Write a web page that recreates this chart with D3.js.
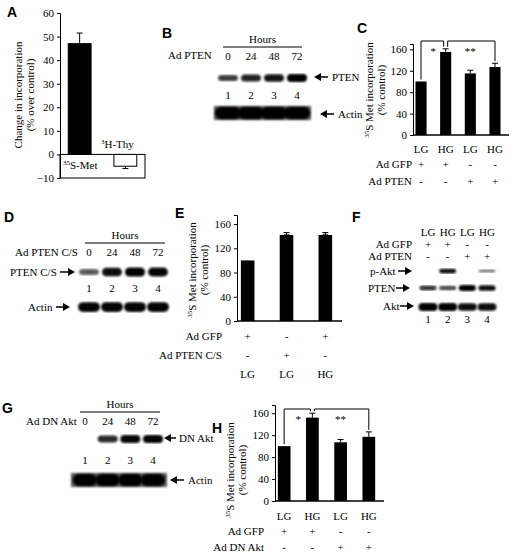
<!DOCTYPE html>
<html><head><meta charset="utf-8">
<script src="https://cdn.jsdelivr.net/npm/d3@7"></script>
<style>
body{margin:0;background:#fff}
text{font-family:"Liberation Serif",serif;font-size:11px;fill:#000}
.let{font-family:"Liberation Sans",Arial,sans-serif;font-weight:bold;font-size:14px}
.axis path,.axis line{stroke:#000;fill:none}
.axis text{font-family:"Liberation Serif",serif;font-size:11px}
</style></head><body>
<svg id="svg" width="520" height="554"></svg>
<script>
// panel A
var aCats = ["35S-Met", "3H-Thy"], aVals = [47, -5], aErr = [4.5, 1];
// panels C, E, H
var cVals = [100, 155, 115, 127], cErr = [0, 6, 6, 7];
var eVals = [100, 142, 142], eErr = [0, 4, 4];
var hVals = [100, 152, 107, 117], hErr = [0, 8, 5, 9];
var glucose4 = ["LG", "HG", "LG", "HG"], glucose3 = ["LG", "LG", "HG"];
var lanes = ["1", "2", "3", "4"], hours = ["0", "24", "48", "72"];
// blot band intensities (0-1)
var bPten = [0.55, 0.75, 0.85, 1], bActin = [1, 1, 1, 1];
var dPten = [0.35, 0.9, 1, 0.95], dActin = [0.95, 0.95, 0.95, 0.95];
var fPakt = [0, 0.9, 0, 0.15], fPten = [0.6, 0.45, 1, 0.9], fAkt = [1, 1, 0.9, 0.9];
var gDn = [0, 0.7, 0.95, 1], gActin = [1, 1, 1, 1];

var svg = d3.select("#svg");
var defs = svg.append("defs");
defs.append("filter").attr("id", "blur").append("feGaussianBlur").attr("stdDeviation", 1.3);

function letter(t, x, y) { svg.append("text").attr("class", "let").attr("x", x).attr("y", y).text(t); }
function txt(t, x, y, anchor, size) {
  return svg.append("text").attr("x", x).attr("y", y).attr("text-anchor", anchor || "start")
    .style("font-size", (size || 11) + "px").text(t);
}
function arrowR(x1, x2, y) {
  svg.append("line").attr("x1", x1).attr("x2", x2 - 5).attr("y1", y).attr("y2", y).attr("stroke", "#000").attr("stroke-width", 1.5);
  svg.append("path").attr("d", "M" + x2 + "," + y + "l-7,-4v8z");
}
function arrowL(x1, x2, y) {
  svg.append("line").attr("x1", x1 + 5).attr("x2", x2).attr("y1", y).attr("y2", y).attr("stroke", "#000").attr("stroke-width", 1.5);
  svg.append("path").attr("d", "M" + x1 + "," + y + "l7,-4v8z");
}
function ylabel(x, y, lines) {
  var t = svg.append("text").attr("transform", "translate(" + x + "," + y + ") rotate(-90)").attr("text-anchor", "middle");
  lines.forEach(function (l, i) {
    var ts = t.append("tspan").attr("x", 0).attr("dy", i ? 12 : 0);
    if (l.sup) { ts.append("tspan").attr("baseline-shift", "super").style("font-size", "7px").text(l.sup); ts.append("tspan").text(l.t); }
    else ts.text(l.t);
  });
}
function supText(sup, t, x, y) {
  var s = svg.append("text").attr("x", x).attr("y", y);
  s.append("tspan").attr("baseline-shift", "super").style("font-size", "7px").text(sup);
  s.append("tspan").text(t);
}
function band(x, y, w, h, v) {
  if (v <= 0) return;
  svg.append("rect").attr("x", x - w / 2).attr("y", y - h / 2 * (0.5 + v / 2)).attr("width", w)
    .attr("height", h * (0.5 + v / 2)).attr("rx", h / 2).attr("fill", "#000")
    .attr("opacity", 0.45 + 0.55 * v).attr("filter", "url(#blur)");
}
function blot(vals, xs, y, w, h, bg) {
  if (bg) svg.append("rect").attr("x", xs(0) - 14).attr("y", y - h / 2 - 1).attr("width", xs(3) - xs(0) + 28)
    .attr("height", h + 2).attr("fill", "#555").attr("filter", "url(#blur)");
  vals.forEach(function (v, i) { band(xs(i), y, w, h, v); });
}
function hoursHead(x1, x2, y) {
  txt("Hours", (x1 + x2) / 2, y - 4, "middle");
  svg.append("line").attr("x1", x1).attr("x2", x2).attr("y1", y).attr("y2", y).attr("stroke", "#000");
}

// bar chart helper
function barChart(o) {
  var y = d3.scaleLinear().domain(o.domain).range([o.y0, o.y1]);
  var x = d3.scaleBand().domain(d3.range(o.vals.length)).range([o.x0 + o.pad, o.x1]).paddingInner(o.inner).paddingOuter(0.1);
  var g = svg.append("g");
  g.append("g").attr("class", "axis").attr("transform", "translate(" + o.x0 + ",0)")
    .call(d3.axisLeft(y).tickValues(o.ticks).tickSize(3).tickPadding(3));
  g.append("line").attr("x1", o.x0).attr("x2", o.x1 + 6).attr("y1", y(0)).attr("y2", y(0)).attr("stroke", "#000").attr("stroke-width", 1.5);
  o.vals.forEach(function (v, i) {
    g.append("rect").attr("x", x(i)).attr("width", x.bandwidth()).attr("y", y(v)).attr("height", y(0) - y(v)).attr("fill", "#000");
    var e = o.err[i];
    if (e > 0) {
      var cx = x(i) + x.bandwidth() / 2;
      g.append("line").attr("x1", cx).attr("x2", cx).attr("y1", y(v)).attr("y2", y(v + e)).attr("stroke", "#000");
      g.append("line").attr("x1", cx - 3).attr("x2", cx + 3).attr("y1", y(v + e)).attr("y2", y(v + e)).attr("stroke", "#000");
    }
  });
  return { x: x, y: y, cx: function (i) { return x(i) + x.bandwidth() / 2; } };
}
function brackets(c, vals, errs, top) {
  var p = function (i) { return c.y(vals[i] + errs[i]) - 2; };
  var d = "M" + c.cx(0) + "," + p(0) + "V" + top + "H" + (c.cx(1) - 2) + "V" + p(1);
  var d2 = "M" + (c.cx(1) + 2) + "," + p(1) + "V" + top + "H" + c.cx(3) + "V" + p(3);
  svg.append("path").attr("d", d).attr("fill", "none").attr("stroke", "#000");
  svg.append("path").attr("d", d2).attr("fill", "none").attr("stroke", "#000");
  txt("*", (c.cx(0) + c.cx(1)) / 2, top + 14, "middle");
  txt("**", (c.cx(1) + c.cx(3)) / 2, top + 14, "middle");
}
function signRows(xs, rows, labelX, y0, dy) {
  rows.forEach(function (r, j) {
    txt(r.name, labelX, y0 + j * dy, "end");
    r.s.forEach(function (s, i) { txt(s, xs(i), y0 + j * dy, "middle"); });
  });
}

// ---------- A ----------
letter("A", 7, 17);
var ay = d3.scaleLinear().domain([-10, 60]).range([178, 13]);
var ax = d3.scaleBand().domain(aCats).range([60, 145]).paddingInner(0.5).paddingOuter(0.18);
svg.append("rect").attr("x", 60).attr("y", ay(0)).attr("width", 85).attr("height", ay(-10) - ay(0)).attr("fill", "none").attr("stroke", "#000");
svg.append("g").attr("class", "axis").attr("transform", "translate(60,0)")
  .call(d3.axisLeft(ay).tickValues([-10, 0, 10, 20, 30, 40, 50, 60]).tickSize(3).tickPadding(3));
aCats.forEach(function (c, i) {
  var v = aVals[i], x = ax(c), w = ax.bandwidth(), cx = x + w / 2;
  svg.append("rect").attr("x", x).attr("width", w).attr("y", ay(Math.max(v, 0))).attr("height", Math.abs(ay(v) - ay(0)))
    .attr("fill", i ? "#fff" : "#000").attr("stroke", "#000");
  var ye = ay(v + (v > 0 ? aErr[i] : -aErr[i]));
  svg.append("line").attr("x1", cx).attr("x2", cx).attr("y1", ay(v)).attr("y2", ye).attr("stroke", "#000");
  svg.append("line").attr("x1", cx - 3).attr("x2", cx + 3).attr("y1", ye).attr("y2", ye).attr("stroke", "#000");
});
supText("35", "S-Met", 63, 169);
supText("3", "H-Thy", 101, 148);
ylabel(22, 95, [{ t: "Change in incorporation" }, { t: "(% over control)" }]);

// ---------- B ----------
letter("B", 162, 38);
var bx = d3.scalePoint().domain(d3.range(4)).range([228, 297]);
hoursHead(223, 302, 47);
txt("Ad PTEN", 168, 59);
hours.forEach(function (h, i) { txt(h, bx(i), 60, "middle"); });
blot(bPten, bx, 78, 20, 8, false);
lanes.forEach(function (l, i) { txt(l, bx(i), 99, "middle"); });
blot(bActin, bx, 113, 26, 12, true);
arrowL(314, 328, 77); txt("PTEN", 332, 81);
arrowL(320, 334, 114); txt("Actin", 338, 118);

// ---------- C ----------
letter("C", 357, 33);
var c = barChart({ vals: cVals, err: cErr, domain: [0, 170], ticks: [0, 40, 80, 120, 160], y0: 135, y1: 44,
  x0: 413, x1: 503, pad: 0, inner: 0.55 });
brackets(c, cVals, cErr, 41);
glucose4.forEach(function (g, i) { txt(g, c.cx(i), 153, "middle"); });
signRows(c.cx, [{ name: "Ad GFP", s: ["+", "+", "-", "-"] }, { name: "Ad PTEN", s: ["-", "-", "+", "+"] }], 412, 168, 17);
ylabel(373, 90, [{ sup: "35", t: "S Met incorporation" }, { t: "(% control)" }]);

// ---------- D ----------
letter("D", 4, 222);
var dx = d3.scalePoint().domain(d3.range(4)).range([89, 158]);
hoursHead(85, 165, 243);
txt("Ad PTEN C/S", 15, 256);
hours.forEach(function (h, i) { txt(h, dx(i), 256, "middle"); });
blot(dPten, dx, 272, 20, 9, false);
txt("PTEN C/S", 10, 276); arrowR(60, 75, 272);
lanes.forEach(function (l, i) { txt(l, dx(i), 292, "middle"); });
blot(dActin, dx, 307, 22, 10, false);
txt("Actin", 28, 311); arrowR(56, 70, 307);

// ---------- E ----------
letter("E", 175, 218);
var e = barChart({ vals: eVals, err: eErr, domain: [0, 175], ticks: [0, 40, 80, 120, 160], y0: 321, y1: 215,
  x0: 237, x1: 336, pad: 0, inner: 0.65 });
eVals.forEach(function (v, i) { if (i) txt("*", e.cx(i), e.y(v + eErr[i]) + 8, "middle", 13); });
signRows(e.cx, [{ name: "Ad GFP", s: ["+", "-", "+"] }, { name: "Ad PTEN C/S", s: ["-", "+", "-"] }], 222, 340, 19);
glucose3.forEach(function (g, i) { txt(g, e.cx(i), 378, "middle"); });
ylabel(196, 270, [{ sup: "35", t: "S Met incorporation" }, { t: "(% control)" }]);

// ---------- F ----------
letter("F", 352, 222);
var fx = d3.scalePoint().domain(d3.range(4)).range([428, 487]);
glucose4.forEach(function (g, i) { txt(g, fx(i), 236, "middle"); });
signRows(fx, [{ name: "Ad GFP", s: ["+", "+", "-", "-"] }, { name: "Ad PTEN", s: ["-", "-", "+", "+"] }], 412, 248, 12);
blot(fPakt, fx, 271, 17, 5, false);
blot(fPten, fx, 288, 17, 6, false);
blot(fAkt, fx, 307, 19, 8, false);
txt("p-Akt", 370, 275); arrowR(398, 412, 271);
txt("PTEN", 368, 292); arrowR(396, 410, 288);
txt("Akt", 383, 310); arrowR(400, 414, 306);
lanes.forEach(function (l, i) { txt(l, fx(i), 323, "middle"); });

// ---------- G ----------
letter("G", 2, 413);
var gx = d3.scalePoint().domain(d3.range(4)).range([85, 153]);
hoursHead(80, 160, 412);
txt("Ad DN Akt", 26, 425);
hours.forEach(function (h, i) { txt(h, gx(i), 425, "middle"); });
blot(gDn, gx, 439, 20, 8, false);
arrowL(164, 176, 438); txt("DN Akt", 179, 442);
lanes.forEach(function (l, i) { txt(l, gx(i), 464, "middle"); });
blot(gActin, gx, 480, 24, 12, true);
arrowL(170, 184, 480); txt("Actin", 188, 484);

// ---------- H ----------
letter("H", 212, 433);
var h = barChart({ vals: hVals, err: hErr, domain: [0, 175], ticks: [0, 40, 80, 120, 160], y0: 501, y1: 405,
  x0: 275, x1: 378, pad: 0, inner: 0.55 });
brackets(h, hVals, hErr, 409);
glucose4.forEach(function (g, i) { txt(g, h.cx(i), 520, "middle"); });
signRows(h.cx, [{ name: "Ad GFP", s: ["+", "+", "-", "-"] }, { name: "Ad DN Akt", s: ["-", "-", "+", "+"] }], 264, 535, 16);
ylabel(234, 470, [{ sup: "35", t: "S Met incorporation" }, { t: "(% control)" }]);
</script></body></html>
